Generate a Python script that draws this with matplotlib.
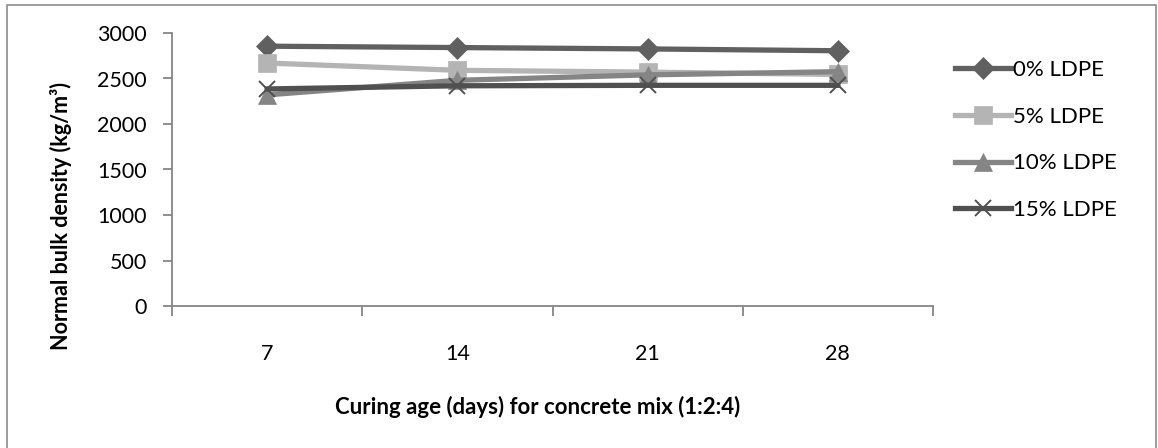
#!/usr/bin/env python3
"""
Normal bulk density vs curing age for LDPE concrete mixes
"""

import matplotlib
matplotlib.use('Agg')
import matplotlib.pyplot as plt
from matplotlib.patches import Rectangle

plt.rcParams['font.family'] = ['Lato', 'DejaVu Sans']

# --------------------------------------------------
# data
ages = ['7', '14', '21', '28']
ldpe_0 = [2855, 2840, 2825, 2805]
ldpe_5 = [2670, 2590, 2570, 2545]
ldpe_10 = [2320, 2480, 2540, 2575]
ldpe_15 = [2385, 2420, 2425, 2425]
series_names = ['0% LDPE', '5% LDPE', '10% LDPE', '15% LDPE']
y_ticks = [0, 500, 1000, 1500, 2000, 2500, 3000]

# --------------------------------------------------
def main():
    fig = plt.figure(figsize=(11.58, 4.48), dpi=100)
    ax = fig.add_axes([172 / 1158, 1 - 306 / 448, 761 / 1158, 273 / 448])

    # outer chart border
    fig.add_artist(Rectangle((7 / 1158, -0.05), 1149 / 1158, 1 - 5.5 / 448 + 0.05,
                             transform=fig.transFigure, fill=False,
                             edgecolor='#8c8c8c', linewidth=1.2))

    x = list(range(len(ages)))
    styles = [
        (ldpe_0, '#606060', 'D', 11.5),
        (ldpe_5, '#b4b4b4', 's', 13),
        (ldpe_10, '#858585', '^', 13),
        (ldpe_15, '#505050', 'x', 12),
    ]
    for (vals, col, mk, ms), name in zip(styles, series_names):
        ax.plot(x, vals, color=col, linewidth=3.8, marker=mk, markersize=ms,
                markeredgewidth=1.4 if mk == 'x' else 0.5,
                markeredgecolor=col, markerfacecolor=col, label=name)

    ax.set_ylim(0, 3000)
    ax.set_yticks(y_ticks)
    ax.set_xlim(-0.5, len(ages) - 0.5)
    ax.set_xticks([i - 0.5 for i in range(len(ages) + 1)])
    ax.set_xticklabels([])
    ax.set_xticks(x, minor=True)
    ax.set_xticklabels(ages, minor=True)

    for side in ['top', 'right']:
        ax.spines[side].set_visible(False)
    for side in ['left', 'bottom']:
        ax.spines[side].set_color('#868686')
        ax.spines[side].set_linewidth(1.3)

    ax.tick_params(axis='y', colors='#868686', labelcolor='black', length=6.5,
                   width=1.3, labelsize=15.5, pad=11.5)
    ax.tick_params(axis='x', which='major', colors='#868686', length=7, width=1.3)
    ax.tick_params(axis='x', which='minor', length=0, labelsize=15.5, pad=27)

    ax.set_ylabel('Normal bulk density (kg/m³)', fontsize=15.5, fontweight='bold')
    ax.yaxis.set_label_coords(-0.132, 0.33)
    ax.set_xlabel('Curing age (days) for concrete mix (1:2:4)', fontsize=16,
                  fontweight='bold')
    ax.xaxis.set_label_coords(0.48, -0.33)

    fig.legend(loc='upper left', bbox_to_anchor=(955 / 1158, 1 - 60 / 448),
               frameon=False, fontsize=16, handlelength=2.5, handletextpad=0.1,
               labelspacing=1.2, borderaxespad=0, borderpad=0)

    fig.savefig('out.png', dpi=100)


# --------------------------------------------------
if __name__ == '__main__':
    main()
